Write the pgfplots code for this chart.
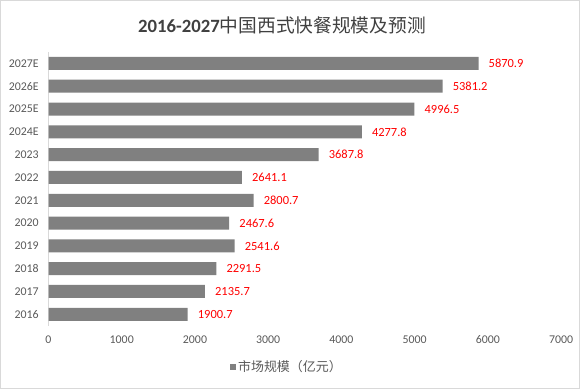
\documentclass[border=0pt]{standalone}
\usepackage{pgfplots}
\pgfplotsset{compat=1.18}
\usepackage{fontspec}
\setmainfont{Carlito}
\newfontfamily\cjk{Noto Sans CJK SC}
\definecolor{bargray}{HTML}{808080}
\definecolor{ticktext}{HTML}{595959}
\definecolor{titletext}{HTML}{404040}
\definecolor{linegray}{HTML}{D9D9D9}
\begin{document}
\begin{tikzpicture}[x=1bp,y=1bp]
\path[use as bounding box] (0,0) rectangle (580,389);
\draw[linegray,line width=1bp] (0.5,0.5) rectangle (579.5,388.5);
\node[anchor=base,text=titletext,inner sep=0] at (282,356.3)
  {{\fontsize{18.8}{20}\selectfont\bfseries 2016-2027}{\fontsize{18.8}{20}\selectfont\cjk 中国西式快餐规模及预测}};
\begin{axis}[
  at={(48.5bp,63.3bp)}, anchor=south west,
  scale only axis, width=512.7bp, height=273.7bp,
  xbar, bar width=13bp,
  xmin=0, xmax=7000, ymin=-0.5, ymax=11.5,
  xtick={0,1000,...,7000},
  ytick={0,...,11},
  yticklabels={2016,2017,2018,2019,2020,2021,2022,2023,2024E,2025E,2026E,2027E},
  major tick length=0,
  axis y line*=left, axis x line*=bottom,
  x axis line style={draw=none},
  y axis line style={draw=linegray, line width=0.8bp},
  /pgf/number format/assume math mode=true,
  /pgf/number format/1000 sep={},
  tick label style={font=\fontsize{11.9}{13}\selectfont, text=ticktext},
  xticklabel style={anchor=center, yshift=-14.3bp, inner sep=0},
  yticklabel style={anchor=east, xshift=-9.7bp, inner sep=0},
  nodes near coords,
  point meta=x,
  nodes near coords style={/pgf/number format/fixed, /pgf/number format/zerofill,
    /pgf/number format/precision=1, /pgf/number format/1000 sep={},
    /pgf/number format/assume math mode=true,
    anchor=west, inner sep=0, xshift=10bp, text=red, font=\fontsize{12.5}{14}\selectfont},
  legend style={at={(0.465,-0.151)}, anchor=center, draw=none, fill=none,
    font=\cjk\fontsize{13}{14}\selectfont, text=ticktext,
    /tikz/every even column/.append style={column sep=0bp}},
  legend image code/.code={\fill[bargray] (0bp,-3bp) rectangle (6bp,3bp);},
]
\addplot[fill=bargray, draw=none] coordinates {
  (1900.7,0) (2135.7,1) (2291.5,2) (2541.6,3) (2467.6,4) (2800.7,5)
  (2641.1,6) (3687.8,7) (4277.8,8) (4996.5,9) (5381.2,10) (5870.9,11)
};
\addlegendentry{市场规模（亿元）}
\end{axis}
\end{tikzpicture}
\end{document}
